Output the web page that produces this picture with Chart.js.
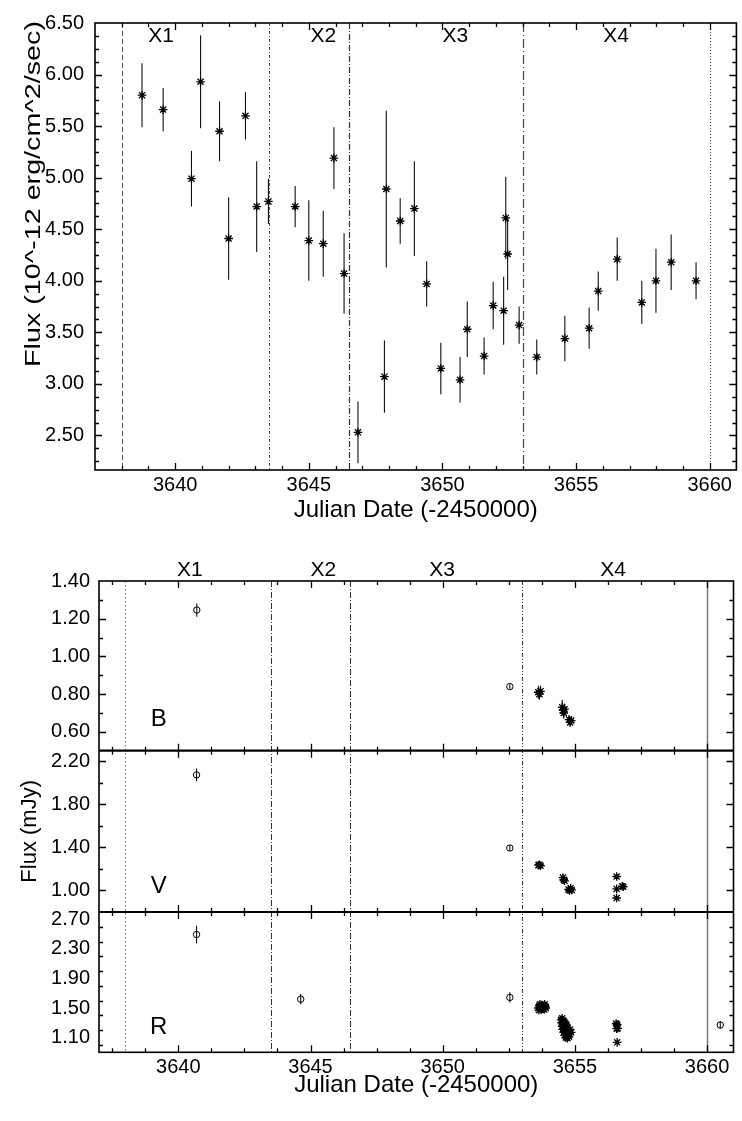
<!DOCTYPE html>
<html>
<head>
<meta charset="utf-8">
<script src="https://cdn.jsdelivr.net/npm/chart.js@4/dist/chart.umd.min.js"></script>
<style>
html,body{margin:0;padding:0;background:#fff;width:742px;height:1121px;overflow:hidden}
canvas{position:absolute;left:0}
#c1{top:0}
#c2{top:540px}
</style>
</head>
<body>
<canvas id="c1" width="742" height="540" style="width:742px;height:540px"></canvas>
<canvas id="c2" width="742" height="581" style="width:742px;height:581px"></canvas>
<script>
// ===== Top panel: X-ray flux =====
const xrayDate = [3638.76, 3639.55, 3640.61, 3640.95, 3641.66, 3642.00, 3642.63, 3643.05, 3643.49, 3644.49,
                  3645.00, 3645.54, 3645.94, 3646.32, 3646.84, 3647.83, 3647.90, 3648.42, 3648.95, 3649.41,
                  3649.94, 3650.66, 3650.93, 3651.56, 3651.90, 3652.29, 3652.37, 3652.44, 3652.87, 3653.53,
                  3654.58, 3655.49, 3655.83, 3656.54, 3657.46, 3657.99, 3658.56, 3659.49];
const xrayFlux = [5.80, 5.66, 4.99, 5.93, 5.45, 4.41, 5.60, 4.72, 4.77, 4.72,
                  4.39, 4.36, 5.19, 4.07, 2.53, 3.07, 4.89, 4.58, 4.70, 3.97,
                  3.15, 3.04, 3.53, 3.27, 3.76, 3.71, 4.61, 4.26, 3.57, 3.26,
                  3.44, 3.54, 3.90, 4.21, 3.79, 4.00, 4.18, 4.00];
const xrayErr  = [0.31, 0.21, 0.27, 0.45, 0.29, 0.40, 0.23, 0.44, 0.22, 0.20,
                  0.39, 0.32, 0.30, 0.39, 0.30, 0.35, 0.76, 0.22, 0.46, 0.22,
                  0.25, 0.22, 0.27, 0.18, 0.23, 0.33, 0.40, 0.35, 0.18, 0.17,
                  0.22, 0.20, 0.19, 0.21, 0.21, 0.31, 0.27, 0.18];

// ===== Bottom panels: optical flux (mJy) =====
// B band
const bCircDate = [3640.70, 3652.54];
const bCircFlux = [1.246, 0.840];
const bCircErr  = [0.035, 0.012];
const bStarDate = [3653.62, 3653.66, 3653.70, 3654.52, 3654.55, 3654.58, 3654.61, 3654.78, 3654.82, 3654.86];
const bStarFlux = [0.810, 0.800, 0.815, 0.730, 0.715, 0.700, 0.720, 0.665, 0.650, 0.660];
const bStarErr  = [0.035, 0.030, 0.030, 0.040, 0.030, 0.030, 0.030, 0.020, 0.020, 0.020];
// V band
const vCircDate = [3640.69, 3652.54];
const vCircFlux = [2.075, 1.395];
const vCircErr  = [0.060, 0.025];
const vStarDate = [3653.62, 3653.66, 3653.70, 3654.55, 3654.58, 3654.61, 3654.76, 3654.80, 3654.84, 3654.88,
                   3656.58, 3656.58, 3656.58, 3656.79, 3656.83];
const vStarFlux = [1.235, 1.240, 1.230, 1.120, 1.100, 1.090, 1.010, 1.000, 1.020, 1.005,
                   1.130, 1.015, 0.930, 1.040, 1.035];
const vStarErr  = [0.015, 0.015, 0.015, 0.020, 0.020, 0.020, 0.015, 0.015, 0.015, 0.015,
                   0.015, 0.015, 0.015, 0.015, 0.015];
// R band
const rCircDate = [3640.69, 3644.63, 3652.54, 3660.50];
const rCircFlux = [2.495, 1.620, 1.643, 1.270];
const rCircErr  = [0.120, 0.070, 0.070, 0.050];
const rStarDate = [3653.62, 3653.66, 3653.70, 3653.74, 3653.78, 3653.82, 3653.86, 3653.90, 3653.64, 3653.72,
                   3653.80, 3653.88, 3653.68, 3653.84,
                   3654.48, 3654.52, 3654.56, 3654.50, 3654.55, 3654.60, 3654.64, 3654.52, 3654.58, 3654.63,
                   3654.68, 3654.54, 3654.60, 3654.66, 3654.72, 3654.58, 3654.64, 3654.70, 3654.76, 3654.82,
                   3654.62, 3654.68, 3654.74, 3654.80, 3654.86, 3654.66, 3654.72, 3654.78,
                   3656.56, 3656.60, 3656.58, 3656.62, 3656.60];
const rStarFlux = [1.50, 1.53, 1.51, 1.54, 1.49, 1.52, 1.55, 1.50, 1.47, 1.48,
                   1.53, 1.52, 1.55, 1.48,
                   1.34, 1.36, 1.33, 1.30, 1.28, 1.31, 1.29, 1.25, 1.24, 1.26,
                   1.27, 1.21, 1.20, 1.22, 1.23, 1.17, 1.16, 1.18, 1.19, 1.21,
                   1.13, 1.12, 1.14, 1.15, 1.17, 1.10, 1.09, 1.11,
                   1.290, 1.275, 1.220, 1.225, 1.035];
const rStarErr  = rStarFlux.map(() => 0.02);

// ===== Axis ticks, boundaries, labels =====
const xTickLabels   = [3640, 3645, 3650, 3655, 3660];
const topYTicks     = [2.50, 3.00, 3.50, 4.00, 4.50, 5.00, 5.50, 6.00, 6.50];
const bYTicks       = [0.60, 0.80, 1.00, 1.20, 1.40];
const vYTicks       = [1.00, 1.40, 1.80, 2.20];
const rYTicks       = [1.10, 1.50, 1.90, 2.30, 2.70];
const boundaryDates = [3638, 3643.5, 3646.5, 3653, 3660];
const regionNames   = ['X1', 'X2', 'X3', 'X4'];
const regionPosTop  = [3639.47, 3645.54, 3650.48, 3656.50];
const regionPosBot  = [3640.44, 3645.49, 3649.98, 3656.45];
const bandNames     = ['B', 'V', 'R'];
const bandLabelPos  = [[3639.26, 0.665], [3639.26, 1.038], [3639.26, 1.242]];
const topYTitle     = 'Flux (10^-12 erg/cm^2/sec)';
const botYTitle     = 'Flux (mJy)';
const xTitle        = 'Julian Date (-2450000)';

// ===== styles =====
const FONT = "'Liberation Sans', Arial, Helvetica, sans-serif";
Chart.defaults.font.family = FONT;
Chart.defaults.color = '#000';
Chart.defaults.animation = false;

const topVStyles = [
  {dash: [5, 3], color: '#555', width: 1},
  {dash: [3, 2, 1, 2], color: '#555', width: 1},
  {dash: [6, 2, 1, 2], color: '#333', width: 1.2},
  {dash: [9, 3, 1, 3], color: '#444', width: 1.2},
  {dash: [1, 2], color: '#444', width: 1}
];
const botVStyles = [
  {dash: [1.5, 2.5], color: '#777', width: 1.2},
  {dash: [6, 2, 1, 2], color: '#333', width: 1},
  {dash: [6, 2, 1, 2], color: '#333', width: 1},
  {dash: [4, 2, 1, 2, 1, 2], color: '#333', width: 1},
  {dash: [], color: '#777', width: 1.5}
];

function mkSet(xs, ys, errs, kind, yAxisID) {
  const star = kind === 'star';
  return {
    data: xs.map((x, i) => ({x: x, y: ys[i]})),
    errors: errs,
    yAxisID: yAxisID,
    showLine: false,
    pointStyle: star ? 'star' : 'circle',
    pointRadius: star ? 4.3 : 3.2,
    pointBorderColor: '#000',
    borderColor: '#000',
    pointBackgroundColor: 'rgba(0,0,0,0)',
    backgroundColor: 'rgba(0,0,0,0)',
    pointBorderWidth: star ? 1.3 : 1
  };
}

const decorPlugin = {
  id: 'decor',
  beforeDatasetsDraw(chart, args, o) {
    const ctx = chart.ctx, ca = chart.chartArea, xs = chart.scales.x;
    ctx.save();
    // region boundaries
    o.vlines.forEach((d, i) => {
      const st = o.vstyles[i];
      const px = Math.round(xs.getPixelForValue(d)) + 0.5;
      ctx.beginPath();
      ctx.setLineDash(st.dash);
      ctx.strokeStyle = st.color;
      ctx.lineWidth = st.width;
      ctx.moveTo(px, ca.top);
      ctx.lineTo(px, ca.bottom);
      ctx.stroke();
    });
    ctx.setLineDash([]);
    // error bars
    ctx.strokeStyle = '#111';
    ctx.lineWidth = 1.1;
    chart.data.datasets.forEach(ds => {
      const ys = chart.scales[ds.yAxisID];
      ds.data.forEach((p, j) => {
        const e = ds.errors[j];
        if (!e) return;
        const px = xs.getPixelForValue(p.x);
        ctx.beginPath();
        ctx.moveTo(px, ys.getPixelForValue(p.y + e));
        ctx.lineTo(px, ys.getPixelForValue(p.y - e));
        ctx.stroke();
      });
    });
    ctx.restore();
  },
  afterDatasetsDraw(chart, args, o) {
    const ctx = chart.ctx, ca = chart.chartArea, xs = chart.scales.x;
    ctx.save();
    ctx.strokeStyle = '#000';
    ctx.lineWidth = 1.3;
    const MAJ = 7, MIN = 4;
    o.panels.forEach((p, k) => {
      const ys = chart.scales[p.id];
      const top = ys.top, bot = ys.bottom;
      const majors = ys.ticks.map(t => t.value);
      // y ticks (left and right, inward)
      const n0 = Math.ceil(ys.min / p.minor - 1e-6), n1 = Math.floor(ys.max / p.minor + 1e-6);
      for (let n = n0; n <= n1; n++) {
        const v = n * p.minor;
        const py = Math.round(ys.getPixelForValue(v)) + 0.5;
        if (py < top + 1 || py > bot - 1) continue;
        const len = majors.some(m => Math.abs(m - v) < p.minor / 10) ? MAJ : MIN;
        ctx.beginPath();
        ctx.moveTo(ca.left, py); ctx.lineTo(ca.left + len, py);
        ctx.moveTo(ca.right, py); ctx.lineTo(ca.right - len, py);
        ctx.stroke();
      }
      // x ticks (top and bottom of each panel, inward)
      const m0 = Math.ceil((xs.min - o.xOrigin) / o.xMinor - 1e-6), m1 = Math.floor((xs.max - o.xOrigin) / o.xMinor + 1e-6);
      for (let m = m0; m <= m1; m++) {
        const v = o.xOrigin + m * o.xMinor;
        const px = Math.round(xs.getPixelForValue(v)) + 0.5;
        if (px < ca.left + 1 || px > ca.right - 1) continue;
        const len = (m % o.xMajorEvery === 0) ? MAJ : MIN;
        ctx.beginPath();
        ctx.moveTo(px, top); ctx.lineTo(px, top + len);
        ctx.moveTo(px, bot); ctx.lineTo(px, bot - len);
        ctx.stroke();
      }
      // band letter
      if (p.letter) {
        ctx.fillStyle = '#000';
        ctx.font = '24px ' + FONT;
        ctx.textAlign = 'center';
        ctx.textBaseline = 'middle';
        ctx.fillText(p.letter, xs.getPixelForValue(p.letterPos[0]), ys.getPixelForValue(p.letterPos[1]));
      }
    });
    // frame
    ctx.lineWidth = 1.6;
    ctx.strokeRect(ca.left, ca.top, ca.width, ca.height);
    ctx.lineWidth = 2.2;
    o.panels.forEach((p, k) => {
      if (k === 0) return;
      const y = chart.scales[p.id].top;
      ctx.beginPath(); ctx.moveTo(ca.left, y); ctx.lineTo(ca.right, y); ctx.stroke();
    });
    // region labels
    ctx.fillStyle = '#000';
    ctx.font = '21px ' + FONT;
    ctx.textAlign = 'center';
    ctx.textBaseline = 'middle';
    o.regionPos.forEach((d, i) => {
      ctx.fillText(regionNames[i], xs.getPixelForValue(d), o.regionY);
    });
    // stretched rotated y title (drawn as real canvas text)
    if (o.yTitle) {
      const t = o.yTitle;
      ctx.font = t.size + 'px ' + FONT;
      const w = ctx.measureText(t.text).width;
      ctx.translate(t.x, t.y);
      ctx.rotate(-Math.PI / 2);
      ctx.scale(t.length / w, 1);
      ctx.fillText(t.text, 0, 0);
    }
    ctx.restore();
  }
};

function fixedTicks(arr) {
  return scale => { scale.ticks = arr.map(v => ({value: v})); };
}
const tickFont = {size: 20, family: FONT};
const titleFont = {size: 22, family: FONT};
const xTitleFont = {size: 24, family: FONT};

function xScale(height, titlePadBottom) {
  return {
    type: 'linear', position: 'bottom', min: 3637, max: 3661,
    grid: {display: false, drawTicks: false}, border: {display: false},
    afterBuildTicks: fixedTicks(xTickLabels),
    afterFit: s => { s.height = height; },
    ticks: {font: tickFont, color: '#000', padding: 3, autoSkip: false, maxRotation: 0,
            callback: v => String(v)},
    title: {display: true, text: xTitle, font: xTitleFont, color: '#000',
            padding: {top: 0, bottom: titlePadBottom}}
  };
}

function yScale(min, max, ticksArr, width, pad, extra) {
  return Object.assign({
    type: 'linear', position: 'left', min: min, max: max,
    grid: {display: false, drawTicks: false}, border: {display: false},
    afterBuildTicks: fixedTicks(ticksArr),
    afterFit: s => { s.width = width; },
    ticks: {font: tickFont, color: '#000', padding: pad, autoSkip: false,
            callback: v => Number(v).toFixed(2)}
  }, extra || {});
}

// ----- top chart -----
new Chart(document.getElementById('c1'), {
  type: 'scatter',
  data: {datasets: [mkSet(xrayDate, xrayFlux, xrayErr, 'star', 'y')]},
  options: {
    responsive: false, maintainAspectRatio: false,
    layout: {padding: {left: 0, right: 1, top: 16, bottom: 0}},
    plugins: {
      legend: {display: false}, tooltip: {enabled: false},
      decor: {
        vlines: boundaryDates, vstyles: topVStyles,
        panels: [{id: 'y', minor: 0.125}],
        xOrigin: 3640, xMinor: 1, xMajorEvery: 5,
        regionPos: regionPosTop, regionY: 36,
        yTitle: {text: topYTitle, size: 22, x: 34, y: 194, length: 346}
      }
    },
    scales: {
      x: xScale(70, 15.6),
      y: yScale(2.165, 6.5, topYTicks, 95, 11)
    }
  },
  plugins: [decorPlugin]
});

// ----- bottom chart (B, V, R stacked) -----
new Chart(document.getElementById('c2'), {
  type: 'scatter',
  data: {datasets: [
    mkSet(bCircDate, bCircFlux, bCircErr, 'circle', 'yB'),
    mkSet(bStarDate, bStarFlux, bStarErr, 'star', 'yB'),
    mkSet(vCircDate, vCircFlux, vCircErr, 'circle', 'yV'),
    mkSet(vStarDate, vStarFlux, vStarErr, 'star', 'yV'),
    mkSet(rCircDate, rCircFlux, rCircErr, 'circle', 'yR'),
    mkSet(rStarDate, rStarFlux, rStarErr, 'star', 'yR')
  ]},
  options: {
    responsive: false, maintainAspectRatio: false,
    layout: {padding: {left: 0, right: 8.5, top: 41, bottom: 0}},
    plugins: {
      legend: {display: false}, tooltip: {enabled: false},
      decor: {
        vlines: boundaryDates, vstyles: botVStyles,
        panels: [
          {id: 'yB', minor: 0.1, letter: bandNames[0], letterPos: bandLabelPos[0]},
          {id: 'yV', minor: 0.2, letter: bandNames[1], letterPos: bandLabelPos[1]},
          {id: 'yR', minor: 0.2, letter: bandNames[2], letterPos: bandLabelPos[2]}
        ],
        xOrigin: 3640, xMinor: 1.25, xMajorEvery: 4,
        regionPos: regionPosBot, regionY: 30
      }
    },
    scales: {
      x: xScale(68.7, 21.6),
      yB: yScale(0.5, 1.4, bYTicks, 99, 9, {stack: 'bands', stackWeight: 169.7, weight: 3}),
      yV: yScale(0.8, 2.3, vYTicks, 99, 9, {stack: 'bands', stackWeight: 161.3, weight: 2,
        title: {display: true, text: botYTitle, font: titleFont, color: '#000', padding: {top: 17, bottom: 0}}}),
      yR: yScale(0.9, 2.8, rYTicks, 99, 9, {stack: 'bands', stackWeight: 140.3, weight: 1})
    }
  },
  plugins: [decorPlugin]
});
</script>
</body>
</html>
